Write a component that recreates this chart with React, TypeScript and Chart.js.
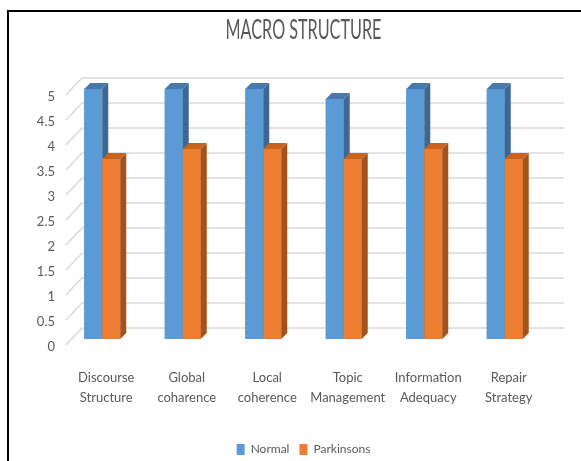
import React, { useEffect, useRef } from "react";
import { Chart, registerables } from "chart.js";

Chart.register(...registerables);

const chartTitle = "MACRO STRUCTURE";
const categories = [
  ["Discourse", "Structure"],
  ["Global", "coharence"],
  ["Local", "coherence"],
  ["Topic", "Management"],
  ["Information", "Adequacy"],
  ["Repair", "Strategy"],
];
const seriesNames = ["Normal", "Parkinsons"];
const normalValues = [5, 5, 5, 4.8, 5, 5];
const parkinsonsValues = [3.6, 3.8, 3.8, 3.6, 3.8, 3.6];
const yMin = 0;
const yMax = 5;
const yStep = 0.5;

const FONT = "Lato, 'Noto Sans', sans-serif";
const TEXT = "#595959";
const GRID = "#d9d9d9";
const DEPTH = 6;

const faces = [
  { front: "#5B9BD5", top: "#4878AC", side: "#3D6894" },
  { front: "#ED7D31", top: "#C8621E", side: "#A3521B" },
];

const poly = (ctx: CanvasRenderingContext2D, pts: number[][], fill: string) => {
  ctx.beginPath();
  ctx.moveTo(pts[0][0], pts[0][1]);
  for (let i = 1; i < pts.length; i++) ctx.lineTo(pts[i][0], pts[i][1]);
  ctx.closePath();
  ctx.fillStyle = fill;
  ctx.fill();
};

const wall3d = {
  id: "wall3d",
  beforeDatasetsDraw(chart: any) {
    const { ctx, chartArea } = chart;
    const y = chart.scales.y;
    ctx.save();
    ctx.strokeStyle = GRID;
    ctx.lineWidth = 1.5;
    y.ticks.forEach((t: any) => {
      const py = y.getPixelForValue(t.value);
      ctx.beginPath();
      ctx.moveTo(chartArea.left + 4, py + 6);
      ctx.lineTo(chartArea.left + 20, py - 11);
      ctx.lineTo(chartArea.right + 19, py - 11);
      ctx.stroke();
    });
    ctx.restore();
  },
  afterDatasetsDraw(chart: any) {
    const { ctx } = chart;
    ctx.save();
    chart.data.datasets.forEach((_ds: any, i: number) => {
      const meta = chart.getDatasetMeta(i);
      const f = faces[i];
      meta.data.forEach((bar: any) => {
        bar.draw(ctx, chart.chartArea);
        const { x, y, base, width } = bar.getProps(["x", "y", "base", "width"], true);
        const l = x - width / 2;
        const r = x + width / 2;
        poly(ctx, [[r, y], [r + DEPTH, y - DEPTH], [r + DEPTH, base - DEPTH], [r, base]], f.side);
        poly(ctx, [[l, y], [l + DEPTH, y - DEPTH], [r + DEPTH, y - DEPTH], [r, y]], f.top);
      });
    });
    ctx.restore();
  },
  afterDraw(chart: any) {
    const { ctx, chartArea } = chart;
    ctx.save();
    ctx.font = `27px ${FONT}`;
    ctx.fillStyle = TEXT;
    ctx.textAlign = "center";
    ctx.textBaseline = "alphabetic";
    ctx.translate((chartArea.left + chartArea.right) / 2, 39);
    ctx.scale(0.6, 1);
    ctx.fillText(chartTitle, 0, 0);
    ctx.restore();
  },
};

export default function App() {
  const ref = useRef<HTMLCanvasElement>(null);
  useEffect(() => {
    const chart = new Chart(ref.current as HTMLCanvasElement, {
      type: "bar",
      data: {
        labels: categories,
        datasets: [
          { label: seriesNames[0], data: normalValues, backgroundColor: faces[0].front },
          { label: seriesNames[1], data: parkinsonsValues, backgroundColor: faces[1].front },
        ],
      },
      options: {
        responsive: false,
        animation: false,
        devicePixelRatio: 1,
        layout: { padding: { top: 89, right: 36, left: 0, bottom: 14.5 } },
        datasets: { bar: { categoryPercentage: 0.447, barPercentage: 1 } },
        scales: {
          x: {
            offset: true,
            grid: { display: false, drawTicks: false },
            border: { display: false },
            ticks: {
              color: TEXT,
              font: { family: FONT, size: 13, lineHeight: 1.6 },
              padding: 28,
              labelOffset: 4,
              maxRotation: 0,
              autoSkip: false,
            },
            afterFit: (s: any) => {
              s.height = 94.5;
            },
          },
          y: {
            min: yMin,
            max: yMax,
            grid: { display: false, drawTicks: false },
            border: { display: false },
            ticks: {
              stepSize: yStep,
              color: TEXT,
              font: { family: FONT, size: 13 },
              padding: 7,
              labelOffset: 8,
              callback: (v: any) => String(Number(v)),
            },
            afterFit: (s: any) => {
              s.width = 62;
            },
          },
        },
        plugins: {
          legend: {
            position: "bottom",
            fullSize: false,
            labels: {
              boxWidth: 8,
              boxHeight: 11,
              padding: 10,
              color: TEXT,
              font: { family: FONT, size: 12 },
            },
          },
          tooltip: { enabled: false },
          title: { display: false },
        },
      },
      plugins: [wall3d],
    } as any);
    return () => chart.destroy();
  }, []);
  return (
    <>
      <div
        style={{
          position: "fixed",
          left: 7,
          top: 10,
          width: 700,
          height: 600,
          borderLeft: "2px solid #000",
          borderTop: "2px solid #000",
        }}
      />
      <canvas ref={ref} width={581} height={480} style={{ position: "fixed", left: 0, top: 0 }} />
    </>
  );
}
